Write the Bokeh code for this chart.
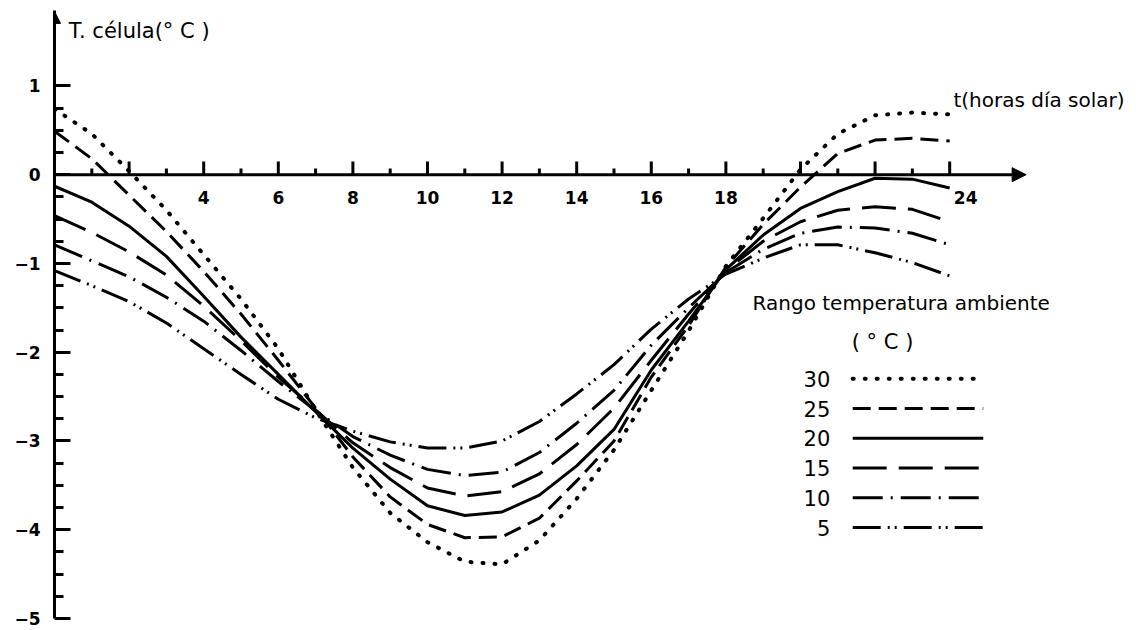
from bokeh.plotting import figure
from bokeh.models import Arrow, NormalHead, Range1d, FixedTicker, ColumnDataSource
from bokeh.embed import file_html
from bokeh.resources import INLINE
from bokeh.core.properties import value

# ---------------- data ----------------
hours = list(range(25))

t30 = [0.74, 0.46, 0.04, -0.40, -0.90, -1.40, -1.96, -2.65, -3.30, -3.81, -4.14, -4.36, -4.39,
       -4.12, -3.65, -3.10, -2.43, -1.76, -1.03, -0.49, 0.06, 0.46, 0.67, 0.70, 0.68]
t25 = [0.49, 0.18, -0.23, -0.64, -1.09, -1.57, -2.09, -2.63, -3.18, -3.63, -3.94, -4.09, -4.08,
       -3.87, -3.45, -3.00, -2.28, -1.70, -1.04, -0.56, -0.14, 0.24, 0.39, 0.41, 0.38]
t20 = [-0.13, -0.31, -0.58, -0.92, -1.37, -1.83, -2.25, -2.67, -3.08, -3.43, -3.73, -3.84, -3.80,
       -3.61, -3.28, -2.87, -2.20, -1.65, -1.07, -0.68, -0.38, -0.19, -0.04, -0.05, -0.15]
t15 = [-0.46, -0.65, -0.87, -1.13, -1.48, -1.87, -2.28, -2.65, -3.02, -3.30, -3.53, -3.62, -3.57,
       -3.37, -3.04, -2.63, -2.09, -1.57, -1.08, -0.75, -0.53, -0.40, -0.36, -0.39, -0.53]
t10 = [-0.79, -0.97, -1.15, -1.38, -1.65, -1.98, -2.33, -2.66, -2.95, -3.16, -3.32, -3.39, -3.35,
       -3.13, -2.80, -2.43, -1.92, -1.50, -1.10, -0.84, -0.66, -0.59, -0.60, -0.66, -0.79]
t5 = [-1.08, -1.25, -1.43, -1.67, -1.96, -2.25, -2.53, -2.74, -2.89, -3.01, -3.08, -3.08, -3.00,
      -2.78, -2.47, -2.14, -1.74, -1.40, -1.12, -0.94, -0.79, -0.79, -0.88, -0.99, -1.14]

series_labels = ["30", "25", "20", "15", "10", "5"]
series_values = [t30, t25, t20, t15, t10, t5]

x_major_ticks = [2, 4, 6, 8, 10, 12, 14, 16, 18, 20, 22, 24]
x_minor_ticks = [1, 3, 5, 7, 9, 11, 13, 15, 17, 19, 21, 23]
x_tick_labels = ["4", "6", "8", "10", "12", "14", "16", "18", "24"]
x_tick_label_pos = [4, 6, 8, 10, 12, 14, 16, 18, 24]
y_major_ticks = [-5, -4, -3, -2, -1, 0, 1]

# ---------------- styles ----------------
FONT = value("DejaVu Sans")
dashes = ["1 11", "18 8", "solid", "34 12", "30 8 2 8", "28 7 2 5 2 7"]
caps = ["round", "butt", "butt", "butt", "butt", "butt"]
widths = [4, 3, 3, 3, 3, 3]

p = figure(width=1145, height=630, output_backend="svg", toolbar_location=None,
           x_range=Range1d(0, 29.25), y_range=Range1d(-5, 1.85),
           min_border_left=54, min_border_right=0, min_border_top=10, min_border_bottom=12,
           x_axis_location=None)
p.outline_line_color = None
p.xgrid.visible = False
p.ygrid.visible = False
p.background_fill_color = "white"
p.border_fill_color = "white"

# y axis (at x = 0)
y_minor = [v + q for v in y_major_ticks[:-1] for q in (0.25, 0.5, 0.75)]
p.yaxis.ticker = FixedTicker(ticks=y_major_ticks, minor_ticks=y_minor)
p.yaxis.axis_line_width = 3
p.yaxis.major_tick_in = 16
p.yaxis.major_tick_out = 0
p.yaxis.minor_tick_in = 9
p.yaxis.minor_tick_out = 0
p.yaxis.major_tick_line_width = 3
p.yaxis.minor_tick_line_width = 3
p.yaxis.major_label_text_font = "DejaVu Sans"
p.yaxis.major_label_text_font_size = "17px"
p.yaxis.major_label_text_font_style = "bold"
p.yaxis.major_label_text_color = "black"
p.yaxis.major_label_standoff = 14
p.add_layout(Arrow(end=NormalHead(size=12, fill_color="black", line_color="black"),
                   x_start=0, y_start=1.5, x_end=0, y_end=1.84, line_width=3))

# x axis (at y = 0) drawn by hand
p.add_layout(Arrow(end=NormalHead(size=14, fill_color="black", line_color="black"),
                   x_start=0, y_start=0, x_end=26.05, y_end=0, line_width=3))
p.segment(x0=x_major_ticks, y0=[0] * len(x_major_ticks), x1=x_major_ticks,
          y1=[0.15] * len(x_major_ticks), line_width=3, line_color="black")
p.segment(x0=x_minor_ticks, y0=[0] * len(x_minor_ticks), x1=x_minor_ticks,
          y1=[0.07] * len(x_minor_ticks), line_width=3, line_color="black")
lbl_src = ColumnDataSource(dict(x=x_tick_label_pos, y=[-0.26] * len(x_tick_label_pos),
                                text=x_tick_labels,
                                xo=[16 if t == "24" else 0 for t in x_tick_labels]))
p.text(x="x", y="y", text="text", x_offset="xo", source=lbl_src, text_align="center",
       text_baseline="middle", text_font=FONT, text_font_size="17px",
       text_font_style="bold", text_color="black")

# curves
for vals, dash, cap, w in zip(series_values, dashes, caps, widths):
    p.line(hours, vals, line_color="black", line_width=w, line_dash=dash, line_cap=cap)

# axis titles
p.text(x=[0.38], y=[1.62], text=["T. célula(° C )"], text_align="left", text_baseline="middle",
       text_font=FONT, text_font_size="21px", text_color="black")
p.text(x=[24.1], y=[0.84], text=["t(horas día solar)"], text_align="left", text_baseline="middle",
       text_font=FONT, text_font_size="20px", text_color="black")

# legend (number on the left, line sample on the right)
p.text(x=[22.7], y=[-1.45], text=["Rango temperatura ambiente"], text_align="center",
       text_baseline="middle", text_font=FONT, text_font_size="20px", text_color="black")
p.text(x=[22.2], y=[-1.89], text=["( ° C )"], text_align="center",
       text_baseline="middle", text_font=FONT, text_font_size="21px", text_color="black")
leg_top, leg_step = -2.30, 0.335
for i, (lab, dash, cap, w) in enumerate(zip(series_labels, dashes, caps, widths)):
    yy = leg_top - i * leg_step
    p.text(x=[20.8], y=[yy], text=[lab], text_align="right", text_baseline="middle",
           text_font=FONT, text_font_size="21px", text_color="black")
    p.line([21.4, 24.9], [yy, yy], line_color="black", line_width=w, line_dash=dash, line_cap=cap)

open("out.html", "w").write(file_html(p, INLINE))
